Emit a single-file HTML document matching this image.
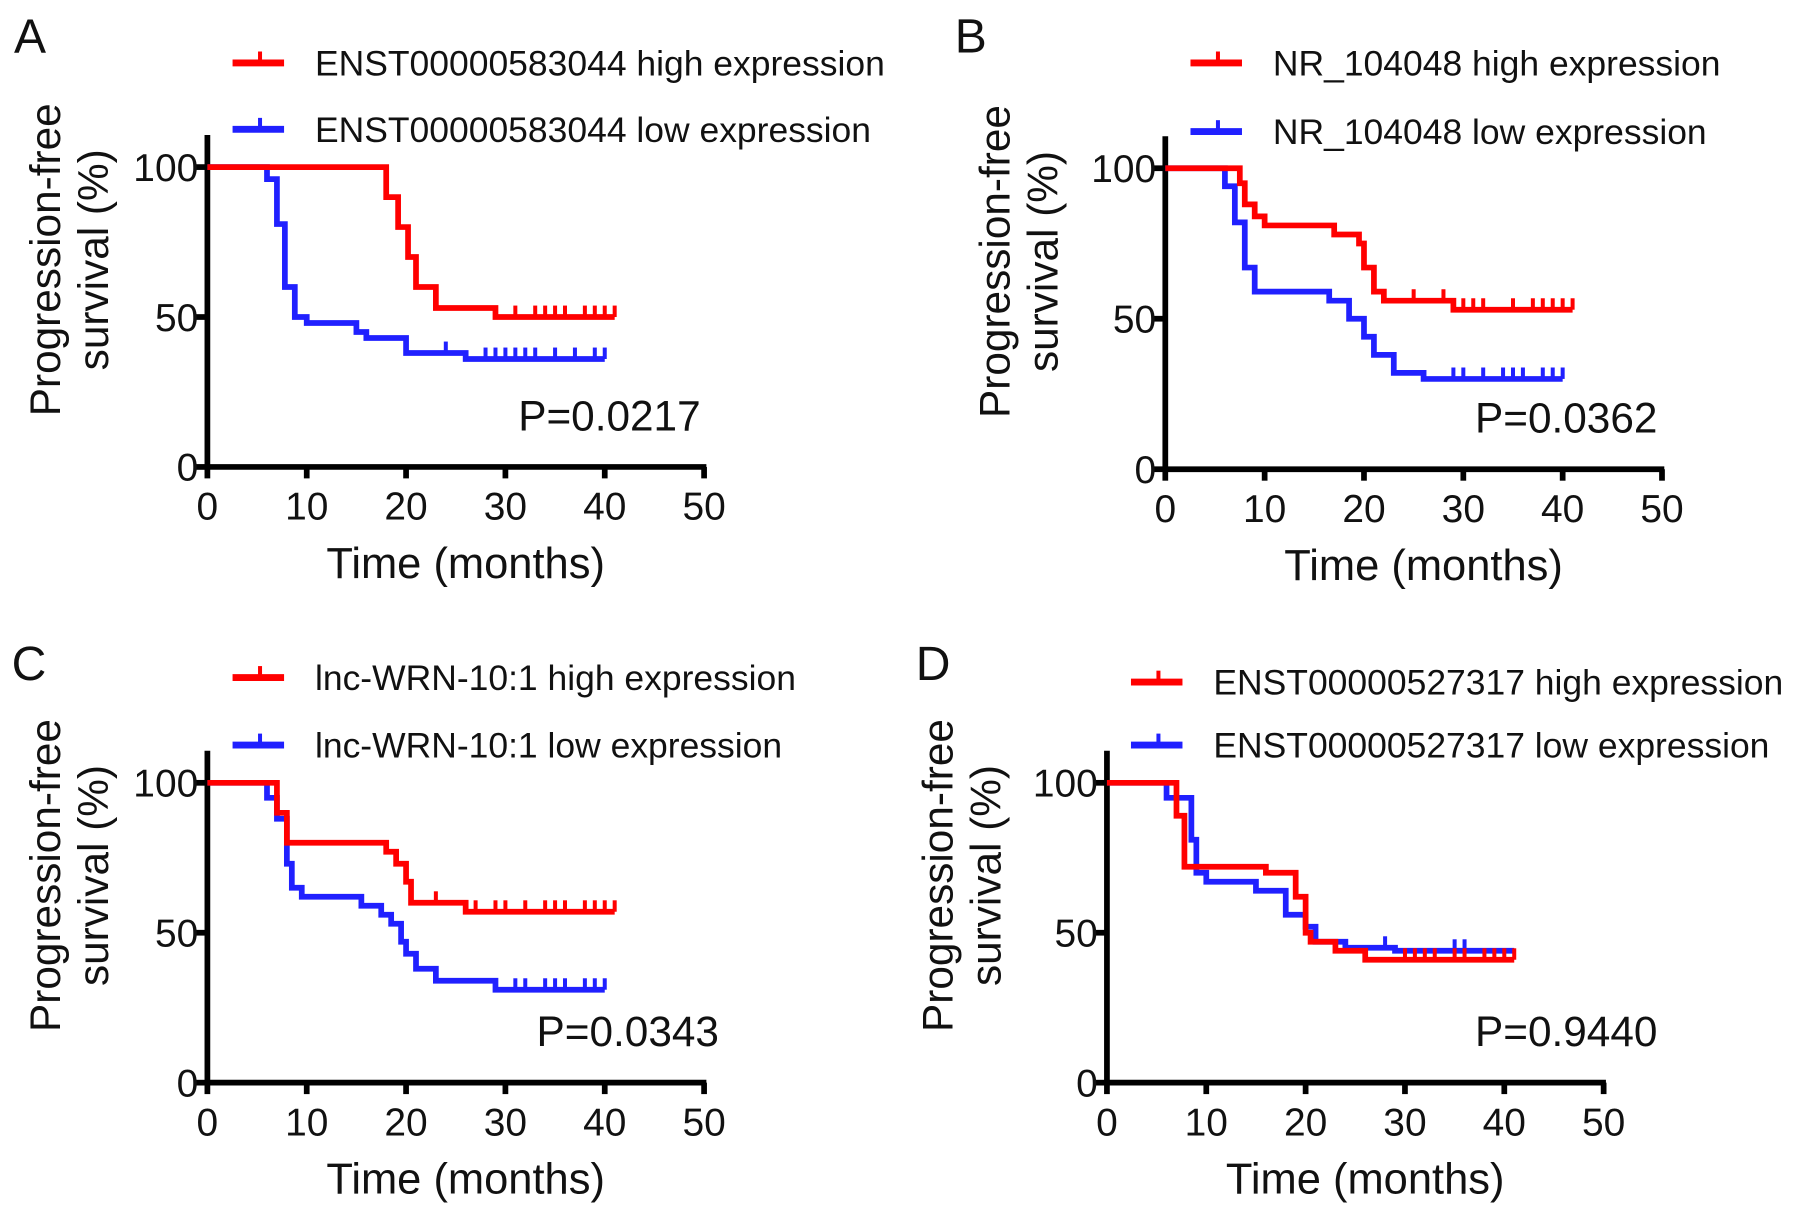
<!DOCTYPE html>
<html><head><meta charset="utf-8"><style>
html,body{margin:0;padding:0;background:#fff;}
svg{display:block;}
text{font-family:"Liberation Sans",sans-serif;fill:#111;}
</style></head><body>
<svg id="fig" width="1795" height="1220" viewBox="0 0 1568 1066" xmlns="http://www.w3.org/2000/svg"></svg>
<script>
// ---- data (time in months, survival %) ----
const panelLetters = ["A","B","C","D"];
const highNames = ["ENST00000583044 high expression","NR_104048 high expression","lnc-WRN-10:1 high expression","ENST00000527317 high expression"];
const lowNames = ["ENST00000583044 low expression","NR_104048 low expression","lnc-WRN-10:1 low expression","ENST00000527317 low expression"];
const pValues = ["P=0.0217","P=0.0362","P=0.0343","P=0.9440"];
const xTicks = [0,10,20,30,40,50];
const yTicks = [0,50,100];

const highTimesA = [18,19.2,20.2,21,23,29];
const highSurvA  = [90,80,70,60,53,50];
const highCensA  = [31,33,34,35,36,38,39,40,41];
const lowTimesA  = [6,7,7.8,8.8,10,15,16,20,26];
const lowSurvA   = [96,81,60,50,48,45,43,38,36];
const lowCensA   = [24,28,29,30,31,32,33,35,37,39,40];

const highTimesB = [7.5,8,9,10,17,19.5,20,21,22,29];
const highSurvB  = [95,88,84,81,78,75,67,59,56,53];
const highCensB  = [25,28,30,31,32,35,37,38,39,40,41];
const lowTimesB  = [6,7,8,9,16.5,18.5,20,21,23,26];
const lowSurvB   = [94,82,67,59,56,50,44,38,32,30];
const lowCensB   = [29,30,32,34,35,36,38,39,40];

const highTimesC = [7,8,18,19,20,20.5,26];
const highSurvC  = [90,80,77,73,67,60,57];
const highCensC  = [23,27,29,30,32,34,35,36,38,39,40,41];
const lowTimesC  = [6,7,8,8.5,9.5,15.5,17.5,18.5,19.5,20,21,23,29];
const lowSurvC   = [95,88,73,65,62,59,56,53,47,43,38,34,31];
const lowCensC   = [31,32,34,35,36,38,39,40];

const highTimesD = [7,7.8,16,19,20,20.5,23,26];
const highSurvD  = [89,72,70,62,50,47,44,41];
const highCensD  = [30,31,32,33,35,36,38,39,40,41];
const lowTimesD  = [6,8.5,9,10,15,18,20,21,24,29];
const lowSurvD   = [95,81,70,67,64,56,52,47,45,44];
const lowCensD   = [28,35,36];

const highEnd = [41,41,41,41];
const lowEnd  = [40,40,40,41];

// ---- layout (in viewBox units) ----
const layouts = [
 {x0:181,x50:615,y0:408,y100:146,lx:30,ly:30,legX:203,legY1:55,legY2:113,yt:40,pEnd:612},
 {x0:1018,x50:1452,y0:410,y100:147,lx:852,ly:30,legX:1040,legY1:55,legY2:115,yt:870,pEnd:1448},
 {x0:181,x50:615,y0:946,y100:684,lx:28,ly:578,legX:203,legY1:592,legY2:651,yt:40,pEnd:628},
 {x0:967,x50:1401,y0:946,y100:684,lx:818,ly:578,legX:988,legY1:596,legY2:651,yt:820,pEnd:1448}
];
const highSets=[[highTimesA,highSurvA,highCensA],[highTimesB,highSurvB,highCensB],[highTimesC,highSurvC,highCensC],[highTimesD,highSurvD,highCensD]];
const lowSets=[[lowTimesA,lowSurvA,lowCensA],[lowTimesB,lowSurvB,lowCensB],[lowTimesC,lowSurvC,lowCensC],[lowTimesD,lowSurvD,lowCensD]];

const NS="http://www.w3.org/2000/svg";
const svg=document.getElementById('fig');
function mk(tag,attrs,parent,txt){const e=document.createElementNS(NS,tag);for(const k in attrs)e.setAttribute(k,attrs[k]);if(txt!==undefined)e.textContent=txt;parent.appendChild(e);return e;}

function survAt(times,surv,t){let s=100;for(let i=0;i<times.length;i++){if(times[i]<=t)s=surv[i];}return s;}

function drawCurve(g,L,set,end,color,name){
  const X=t=>L.x0+(L.x50-L.x0)*t/50, Y=v=>L.y0-(L.y0-L.y100)*v/100;
  const [times,surv,cens]=set;
  let d="M"+X(0)+","+Y(100);
  for(let i=0;i<times.length;i++){d+=" H"+X(times[i])+" V"+Y(surv[i]);}
  d+=" H"+X(end);
  const p=mk('path',{d:d,fill:'none',stroke:color,'stroke-width':5,'stroke-linejoin':'miter'},g);
  
  
  cens.forEach(c=>{const s=survAt(times,surv,c);
    const l=mk('line',{x1:X(c),x2:X(c),y1:Y(s),y2:Y(s)-10,stroke:color,'stroke-width':3.5},g);
    
    
  });
}

layouts.forEach((L,i)=>{
  const g=mk('g',{},svg);
  
  
  const X=t=>L.x0+(L.x50-L.x0)*t/50, Y=v=>L.y0-(L.y0-L.y100)*v/100;
  const lt=mk('text',{x:L.lx-18,y:L.ly+16,'font-size':42},g,panelLetters[i]);
  
  [[L.legY1,'#ff0000',highNames[i],'legend-high'],[L.legY2,'#2020ff',lowNames[i],'legend-low']].forEach(([y,c,n,dn])=>{
    const lg=mk('g',{},g);
    mk('line',{x1:L.legX,x2:L.legX+45,y1:y,y2:y,stroke:c,'stroke-width':6},lg);
    mk('line',{x1:L.legX+24,x2:L.legX+24,y1:y,y2:y-10,stroke:c,'stroke-width':3.5},lg);
    mk('text',{x:L.legX+72,y:y+11,'font-size':31},lg,n);
  });
  const ax=mk('g',{stroke:'#000','stroke-width':5},g);
  
  mk('line',{x1:L.x0,x2:L.x0,y1:L.y100-28,y2:L.y0+2},ax);
  mk('line',{x1:L.x0-2,x2:L.x50+2,y1:L.y0,y2:L.y0},ax);
  yTicks.forEach(v=>{mk('line',{x1:L.x0-10,x2:L.x0,y1:Y(v),y2:Y(v)},ax);
    const t=mk('text',{x:L.x0-8,y:Y(v)+12,'font-size':34,'text-anchor':'end',stroke:'none'},g,String(v));
    });
  xTicks.forEach(v=>{mk('line',{x1:X(v),x2:X(v),y1:L.y0,y2:L.y0+10},ax);
    const t=mk('text',{x:X(v),y:L.y0+46,'font-size':34,'text-anchor':'middle',stroke:'none'},g,String(v));
    });
  const xt=mk('text',{x:X(26),y:L.y0+97,'font-size':38,'text-anchor':'middle'},g,'Time (months)');
  
  const cy=(L.y0+L.y100)/2-50;
  const yt=mk('text',{transform:`translate(${L.yt+12},${cy}) rotate(-90)`,'font-size':37,'text-anchor':'middle'},g);
  
  mk('tspan',{x:0,y:0},yt,'Progression-free');
  mk('tspan',{x:0,y:42},yt,'survival (%)');
  drawCurve(g,L,lowSets[i],lowEnd[i],'#2020ff','low-expression');
  drawCurve(g,L,highSets[i],highEnd[i],'#ff0000','high-expression');
  const pv=mk('text',{x:L.pEnd,y:L.y0-32,'font-size':37,'text-anchor':'end'},g,pValues[i]);
  
});
</script>
</body></html>
